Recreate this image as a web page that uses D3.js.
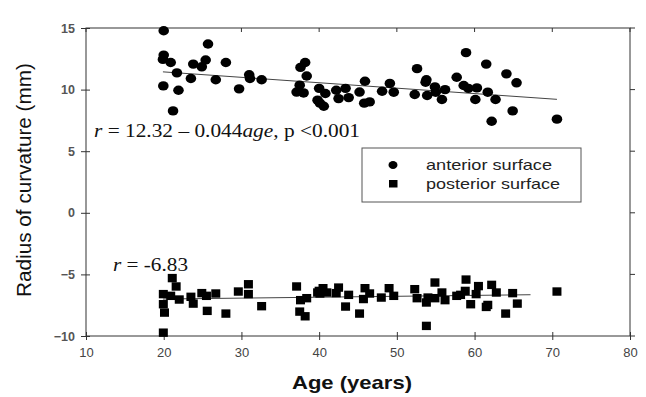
<!DOCTYPE html>
<html>
<head>
<meta charset="utf-8">
<script src="https://cdn.jsdelivr.net/npm/d3@7"></script>
<style>
  body { margin: 0; background: #fff; }
  svg { display: block; }
</style>
</head>
<body>
<svg id="chart" width="646" height="397"></svg>
<script>
// anterior surface (age, radius mm)
var anteriorAge = [20.0, 20.0, 19.9, 20.9, 21.7, 19.95, 21.9, 21.2, 23.5, 23.8, 24.9, 25.4, 25.7, 26.7, 28.0, 29.7,
  31.0, 31.1, 32.6, 37.6, 38.2, 38.4, 37.5, 37.1, 38.0, 40.0, 39.8, 40.8, 40.1, 40.6, 42.2, 43.4, 42.5, 43.8, 45.2,
  45.9, 45.8, 46.5, 48.1, 49.1, 49.6, 52.6, 53.8, 53.7, 52.3, 53.9, 54.9, 55.0, 55.8, 56.2, 57.7, 58.9, 58.6, 59.2,
  60.3, 60.1, 61.5, 61.7, 62.7, 62.2, 64.1, 65.4, 64.9, 70.6];
var anteriorVal = [14.78, 12.8, 12.45, 12.2, 11.36, 10.3, 9.95, 8.27, 10.9, 12.07, 11.85, 12.4, 13.7, 10.8, 12.2, 10.06,
  11.2, 10.9, 10.8, 11.8, 12.2, 11.1, 10.36, 9.8, 9.73, 10.1, 9.14, 9.68, 8.9, 8.65, 9.95, 10.1, 9.27, 9.35, 9.8,
  10.68, 8.9, 9.0, 9.87, 10.5, 9.79, 11.7, 10.8, 10.6, 9.6, 9.52, 10.22, 9.79, 9.2, 10.0, 11.0, 13.0, 10.33, 10.1,
  10.14, 9.2, 12.07, 9.79, 9.2, 7.43, 11.28, 10.55, 8.27, 7.6];

// posterior surface (age, radius mm)
var posteriorAge = [21.1, 21.6, 19.95, 20.9, 22.0, 19.95, 20.1, 19.95, 23.5, 23.8, 24.9, 25.5, 25.6, 26.7, 28.0, 29.6,
  30.9, 30.9, 32.6, 37.1, 37.6, 38.4, 37.5, 38.2, 40.0, 40.5, 40.1, 41.0, 39.8, 42.5, 42.2, 43.8, 43.4, 45.2,
  45.9, 46.5, 45.7, 48.0, 49.0, 49.6, 52.3, 52.6, 53.8, 54.0, 54.9, 54.9, 55.8, 56.2, 53.8, 57.7, 58.2, 58.8, 58.9,
  59.5, 60.2, 60.5, 61.5, 61.7, 62.2, 62.8, 64.0, 64.9, 65.5, 70.6];
var posteriorVal = [-5.3, -5.98, -6.6, -6.74, -7.04, -7.42, -8.1, -9.73, -6.82, -7.37, -6.52, -6.74, -7.96, -6.55, -8.18, -6.39,
  -6.6, -5.8, -7.58, -5.98, -7.09, -6.93, -8.02, -8.4, -6.34, -6.12, -6.55, -6.47, -6.47, -6.07, -6.52, -6.66, -7.61, -8.18,
  -6.12, -6.55, -7.0, -6.88, -6.12, -6.74, -6.2, -6.93, -7.28, -6.88, -5.66, -6.93, -6.47, -7.09, -9.18, -6.74, -6.66, -6.34, -5.42,
  -7.42, -6.6, -5.95, -7.64, -7.48, -5.85, -6.47, -8.18, -6.52, -7.37, -6.39];

// fitted lines: [age, value] end points
var anteriorFit = [[19.9, 11.44], [70.6, 9.21]];
var posteriorFit = [[19.9, -7.0], [67.2, -6.65]];

var xTicks = [10, 20, 30, 40, 50, 60, 70, 80];
var yTicks = [-10, -5, 0, 5, 10, 15];
var legendLabels = ["anterior surface", "posterior surface"];

var svg = d3.select("#chart");

var pLeft = 86, pRight = 630, pTop = 28, pBottom = 336;

var x = d3.scaleLinear().domain([10, 80]).range([pLeft, pRight]);
var y = d3.scaleLinear().domain([-10, 15]).range([pBottom, pTop]);

var axisColor = "#333";
var sans = "Liberation Sans, Arial, sans-serif";

// frame
svg.append("rect")
  .attr("x", pLeft).attr("y", pTop)
  .attr("width", pRight - pLeft).attr("height", pBottom - pTop)
  .attr("fill", "none").attr("stroke", axisColor).attr("stroke-width", 1);

// bottom axis (ticks cross the line)
var xAxis = svg.append("g")
  .attr("transform", "translate(0," + pBottom + ")")
  .call(d3.axisBottom(x).tickValues(xTicks).tickSizeInner(4).tickSizeOuter(0).tickPadding(8));
xAxis.selectAll(".tick line").attr("y1", -4).attr("stroke", axisColor);
xAxis.select(".domain").remove();
xAxis.selectAll("text")
  .attr("font-family", sans)
  .attr("font-size", 13).attr("fill", "#444");

// left axis
var yAxis = svg.append("g")
  .attr("transform", "translate(" + pLeft + ",0)")
  .call(d3.axisLeft(y).tickValues(yTicks).tickSizeInner(5).tickSizeOuter(0).tickPadding(6));
yAxis.selectAll(".tick line").attr("x1", 4).attr("stroke", axisColor);
yAxis.select(".domain").remove();
yAxis.selectAll("text")
  .attr("font-family", sans).attr("font-weight", "bold")
  .attr("font-size", 12.5).attr("fill", "#555");

// top ticks (inward)
svg.append("g").selectAll("line").data(xTicks).enter().append("line")
  .attr("x1", d => x(d)).attr("x2", d => x(d))
  .attr("y1", pTop).attr("y2", pTop + 4)
  .attr("stroke", axisColor);

// right ticks (outward)
svg.append("g").selectAll("line").data(yTicks).enter().append("line")
  .attr("x1", pRight).attr("x2", pRight + 5)
  .attr("y1", d => y(d)).attr("y2", d => y(d))
  .attr("stroke", axisColor);

// fitted lines
var line = d3.line().x(d => x(d[0])).y(d => y(d[1]));
[anteriorFit, posteriorFit].forEach(function(f) {
  svg.append("path").datum(f)
    .attr("d", line)
    .attr("fill", "none").attr("stroke", "#444").attr("stroke-width", 1);
});

// anterior points
svg.append("g").selectAll("ellipse")
  .data(d3.range(anteriorAge.length))
  .enter().append("ellipse")
  .attr("cx", i => x(anteriorAge[i]))
  .attr("cy", i => y(anteriorVal[i]))
  .attr("rx", 5.3).attr("ry", 4.7)
  .attr("fill", "#000");

// posterior points
var sqW = 9, sqH = 8.4;
svg.append("g").selectAll("rect")
  .data(d3.range(posteriorAge.length))
  .enter().append("rect")
  .attr("x", i => x(posteriorAge[i]) - sqW / 2)
  .attr("y", i => y(posteriorVal[i]) - sqH / 2)
  .attr("width", sqW).attr("height", sqH)
  .attr("fill", "#000");

// annotations
var serif = "Liberation Serif, Times New Roman, serif";
var ann1 = svg.append("text")
  .attr("x", 94).attr("y", 137)
  .attr("textLength", 266).attr("lengthAdjust", "spacingAndGlyphs")
  .attr("font-family", serif).attr("font-size", 19).attr("fill", "#111");
ann1.append("tspan").attr("font-style", "italic").text("r");
ann1.append("tspan").text(" = 12.32 \u2013 0.044");
ann1.append("tspan").attr("font-style", "italic").text("age");
ann1.append("tspan").text(", p <0.001");

var ann2 = svg.append("text")
  .attr("x", 113).attr("y", 271)
  .attr("textLength", 75).attr("lengthAdjust", "spacingAndGlyphs")
  .attr("font-family", serif).attr("font-size", 19).attr("fill", "#111");
ann2.append("tspan").attr("font-style", "italic").text("r");
ann2.append("tspan").text(" = -6.83");

// legend
var lg = svg.append("g");
lg.append("rect")
  .attr("x", 362).attr("y", 148)
  .attr("width", 219).attr("height", 54)
  .attr("fill", "#fff").attr("stroke", "#555").attr("stroke-width", 1);
lg.append("ellipse").attr("cx", 393).attr("cy", 165).attr("rx", 4.5).attr("ry", 4).attr("fill", "#000");
lg.append("rect").attr("x", 389).attr("y", 180).attr("width", 8.5).attr("height", 7.5).attr("fill", "#000");
lg.selectAll("text.lab").data(legendLabels).enter().append("text")
  .attr("class", "lab")
  .attr("x", 426)
  .attr("y", (d, i) => 170 + i * 18.5)
  .attr("textLength", (d, i) => i === 0 ? 126 : 134)
  .attr("lengthAdjust", "spacingAndGlyphs")
  .attr("font-family", sans)
  .attr("font-size", 14.5).attr("fill", "#222")
  .text(d => d);

// axis titles
svg.append("text")
  .attr("x", 352).attr("y", 389)
  .attr("text-anchor", "middle")
  .attr("textLength", 120).attr("lengthAdjust", "spacingAndGlyphs")
  .attr("font-family", sans)
  .attr("font-size", 19).attr("font-weight", "bold").attr("fill", "#111")
  .text("Age (years)");

svg.append("text")
  .attr("transform", "translate(31,180) rotate(-90)")
  .attr("text-anchor", "middle")
  .attr("textLength", 234).attr("lengthAdjust", "spacingAndGlyphs")
  .attr("font-family", sans)
  .attr("font-size", 19.5).attr("fill", "#111")
  .text("Radius of curvature (mm)");
</script>
</body>
</html>
